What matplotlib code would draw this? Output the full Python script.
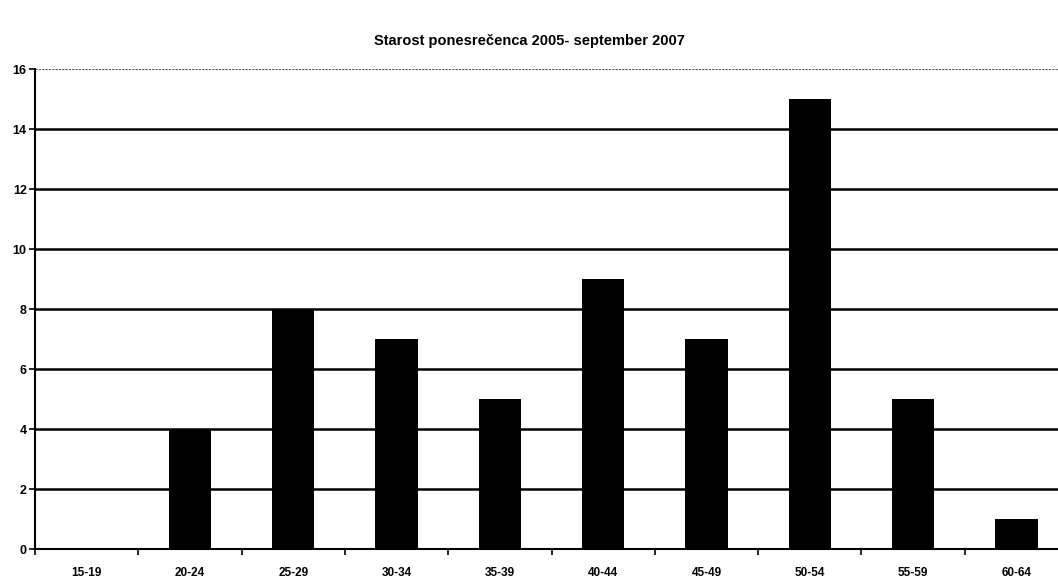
import matplotlib
matplotlib.use("Agg")
from matplotlib import pyplot as plt

categories = ["15-19", "20-24", "25-29", "30-34", "35-39",
              "40-44", "45-49", "50-54", "55-59", "60-64"]
values = [0, 4, 8, 7, 5, 9, 7, 15, 5, 1]
y_ticks = [0, 2, 4, 6, 8, 10, 12, 14, 16]

plt.rcParams["font.family"] = ["Liberation Sans", "DejaVu Sans"]

fig = plt.figure(figsize=(10.58, 5.79), dpi=100)
left, right = 35 / 1058, 1068 / 1058
bottom, top = 1 - 549 / 579, 1 - 69 / 579
ax = fig.add_axes([left, bottom, right - left, top - bottom])

positions = list(range(len(categories)))
ax.bar(positions, values, width=0.41, color="black", zorder=3)

ax.set_xlim(-0.5, len(categories) - 0.5)
ax.set_ylim(0, 16)
ax.set_yticks(y_ticks)
ax.set_yticklabels([str(v) for v in y_ticks], fontsize=9, fontweight="bold")
ax.set_xticks(positions)
ax.set_xticklabels(categories, fontsize=8.5, fontweight="bold")
ax.tick_params(axis="x", length=0, pad=13)
ax.set_xticks([p - 0.5 for p in positions] + [len(categories) - 0.5], minor=True)
ax.tick_params(axis="x", which="minor", length=4, width=1.2, direction="out")
ax.tick_params(axis="y", length=4, width=1.2, direction="out", pad=2)

for y in y_ticks[1:-1]:
    ax.axhline(y, color="black", linewidth=1.8, zorder=1)
ax.axhline(16, color="#555555", linewidth=0.8, linestyle=(0, (2, 1)), zorder=1)

for side in ["top", "right"]:
    ax.spines[side].set_visible(False)
ax.spines["left"].set_linewidth(1.5)
ax.spines["bottom"].set_linewidth(1.5)

fig.text(0.5, 1 - 41 / 579, "Starost ponesrečenca 2005- september 2007",
         ha="center", va="center", fontsize=10.5, fontweight="bold")

fig.savefig("out.png", dpi=100)
